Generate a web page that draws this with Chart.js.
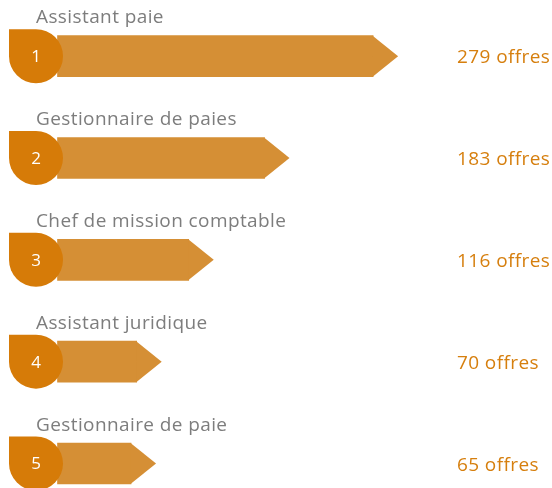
<!DOCTYPE html>
<html>
<head>
<meta charset="utf-8">
<script src="https://cdn.jsdelivr.net/npm/chart.js@4/dist/chart.umd.min.js"></script>
<style>
html,body{margin:0;padding:0;background:#fff;}
canvas{display:block;}
</style>
</head>
<body>
<canvas id="c" width="552" height="488"></canvas>
<script>
const categories = ["Assistant paie", "Gestionnaire de paies", "Chef de mission comptable", "Assistant juridique", "Gestionnaire de paie"];
const values = [279, 183, 116, 70, 65];
const ranks = ["1", "2", "3", "4", "5"];
const valueLabels = values.map(v => v + " offres");

const BAR = "#D58F35";
const DROP = "#D67B08";
const VALUE_COLOR = "#D67F0E";
const LABEL_COLOR = "#7d7d7d";
const FONT = "'Open Sans', sans-serif";

const decor = {
  id: "decor",
  afterDatasetsDraw(chart) {
    const ctx = chart.ctx;
    const meta = chart.getDatasetMeta(0);
    meta.data.forEach((bar, i) => {
      const p = bar.getProps(["x", "y", "height"], true);
      const h = p.height;
      const cy = p.y;
      // arrow head
      ctx.save();
      ctx.fillStyle = BAR;
      ctx.beginPath();
      ctx.moveTo(p.x - 0.5, cy - h / 2);
      ctx.lineTo(p.x + h * 25 / 41, cy);
      ctx.lineTo(p.x - 0.5, cy + h / 2);
      ctx.closePath();
      ctx.fill();
      // teardrop badge
      const r = 27, cx = 36;
      ctx.fillStyle = DROP;
      ctx.beginPath();
      ctx.moveTo(cx - r, cy - r);
      ctx.lineTo(cx, cy - r);
      ctx.arc(cx, cy, r, -Math.PI / 2, Math.PI, false);
      ctx.closePath();
      ctx.fill();
      // rank number
      ctx.fillStyle = "#ffffff";
      ctx.font = "17px " + FONT;
      ctx.letterSpacing = "0px";
      ctx.textAlign = "center";
      ctx.textBaseline = "middle";
      ctx.fillText(ranks[i], cx, cy + 1);
      // category label
      ctx.fillStyle = LABEL_COLOR;
      ctx.font = "19px " + FONT;
      ctx.letterSpacing = "0.4px";
      ctx.textAlign = "left";
      ctx.textBaseline = "alphabetic";
      ctx.fillText(chart.data.labels[i], 36, cy - 33);
      // value label
      ctx.fillStyle = VALUE_COLOR;
      ctx.font = "19px " + FONT;
      ctx.fillText(valueLabels[i], 457, cy + 7);
      ctx.restore();
    });
  }
};

new Chart(document.getElementById("c"), {
  type: "bar",
  data: {
    labels: categories,
    datasets: [{
      data: values,
      backgroundColor: BAR,
      borderWidth: 0,
      barThickness: 41,
      clip: false
    }]
  },
  options: {
    indexAxis: "y",
    responsive: false,
    animation: false,
    layout: { padding: { left: 57.5, right: 42, top: 56.2, bottom: 24.5 } },
    scales: {
      x: { display: false, min: 0, max: 400 },
      y: { display: false, offset: false }
    },
    plugins: { legend: { display: false }, tooltip: { enabled: false } }
  },
  plugins: [decor]
});
</script>
</body>
</html>
